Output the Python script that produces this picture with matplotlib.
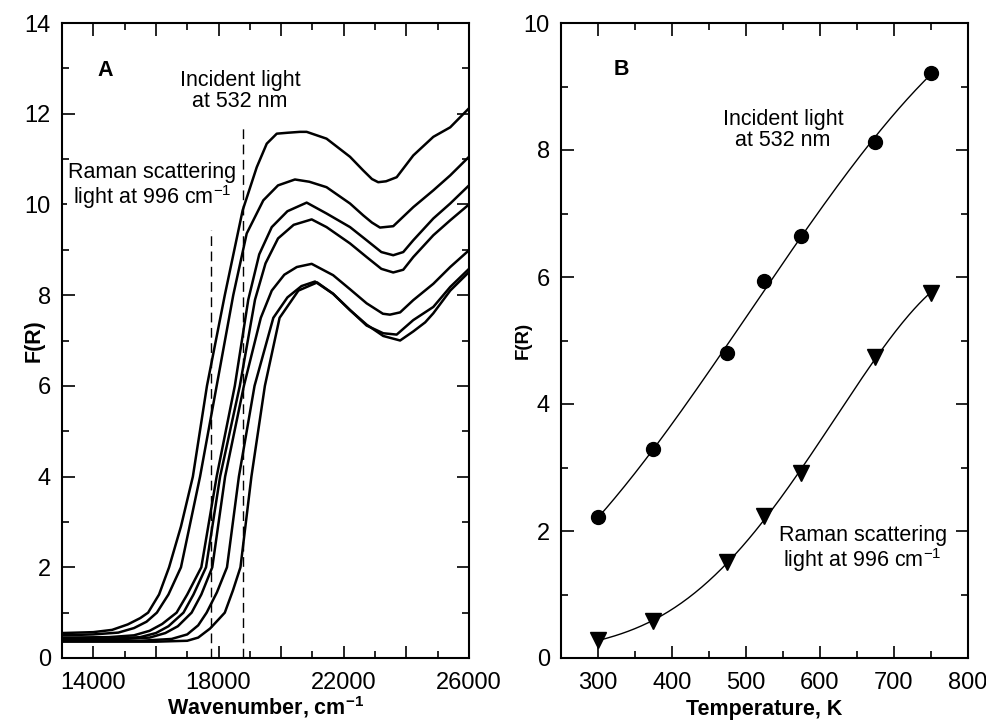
import numpy as np
import matplotlib
matplotlib.use("Agg")
import matplotlib.pyplot as plt
from matplotlib.ticker import MultipleLocator, FuncFormatter

plt.rcParams['font.family'] = ['Liberation Sans', 'DejaVu Sans']
plt.rcParams['mathtext.default'] = 'regular'

# ---------------- Panel A data (wavenumber, F(R)) ----------------
wn_1 = [13000, 14000, 14600, 15100, 15500, 15750, 16100, 16420, 16800, 17180, 17630, 18200, 18770, 19220, 19540,
        19860, 20200, 20600, 20815, 21450, 22200, 22620, 22900, 23100, 23350, 23690, 24220, 24860, 25400, 26000]
fr_1 = [0.55, 0.57, 0.62, 0.74, 0.88, 1.0, 1.4, 2.0, 2.9, 4.0, 6.0, 8.0, 9.87, 10.82, 11.34,
        11.56, 11.58, 11.6, 11.6, 11.45, 11.05, 10.75, 10.56, 10.49, 10.51, 10.6, 11.08, 11.49, 11.7, 12.12]

wn_2 = [13000, 14000, 14800, 15300, 15700, 16030, 16400, 16800, 17410, 17940, 18470, 18900, 19430, 19900, 20440,
        20900, 21450, 22200, 22620, 22900, 23157, 23580, 24220, 24860, 25400, 26000]
fr_2 = [0.5, 0.52, 0.56, 0.66, 0.8, 1.0, 1.4, 2.0, 4.0, 6.0, 8.0, 9.36, 10.09, 10.42, 10.55,
        10.5, 10.38, 10.02, 9.76, 9.6, 9.49, 9.52, 9.94, 10.31, 10.64, 11.05]

wn_3 = [13000, 14500, 15300, 15800, 16200, 16660, 17000, 17450, 17940, 18520, 18950, 19300, 19700, 20200, 20815,
        21450, 22200, 22730, 23200, 23580, 23900, 24220, 24860, 25400, 26000]
fr_3 = [0.45, 0.46, 0.5, 0.6, 0.75, 1.0, 1.4, 2.0, 4.0, 6.0, 7.9, 8.9, 9.5, 9.85, 10.04,
        9.80, 9.50, 9.21, 8.95, 8.88, 8.95, 9.21, 9.69, 10.02, 10.42]

wn_4 = [13000, 14500, 15500, 16000, 16400, 16880, 17200, 17600, 18050, 18680, 19165, 19500, 19900, 20400, 20975,
        21450, 22200, 22730, 23200, 23580, 23900, 24220, 24860, 25400, 26000]
fr_4 = [0.42, 0.42, 0.46, 0.55, 0.7, 1.0, 1.4, 2.0, 4.0, 6.0, 7.9, 8.7, 9.25, 9.55, 9.67,
        9.50, 9.14, 8.84, 8.58, 8.50, 8.56, 8.84, 9.32, 9.65, 10.0]

wn_5 = [13000, 15000, 15800, 16300, 16700, 17140, 17450, 17800, 18210, 18810, 19350, 19700, 20100, 20500, 20975,
        21660, 22200, 22730, 23250, 23475, 23800, 24220, 24860, 25400, 26000]
fr_5 = [0.42, 0.42, 0.45, 0.55, 0.7, 1.0, 1.4, 2.0, 4.0, 6.0, 7.5, 8.1, 8.45, 8.62, 8.69,
        8.44, 8.13, 7.82, 7.59, 7.57, 7.62, 7.89, 8.25, 8.62, 8.99]

wn_6 = [13000, 15500, 16500, 17000, 17350, 17620, 17950, 18270, 18650, 19150, 19750, 20200, 20650, 21080,
        21660, 22200, 22730, 23260, 23690, 24220, 24860, 25400, 26000]
fr_6 = [0.38, 0.38, 0.42, 0.52, 0.72, 1.0, 1.45, 2.0, 4.0, 6.0, 7.5, 7.95, 8.2, 8.30,
        8.03, 7.67, 7.33, 7.16, 7.13, 7.45, 7.74, 8.18, 8.58]

wn_7 = [13000, 16000, 17000, 17350, 17730, 18000, 18200, 18460, 18700, 19050, 19480, 19950, 20550, 21150,
        21660, 22200, 22730, 23260, 23800, 24220, 24600, 24860, 25400, 26000]
fr_7 = [0.36, 0.36, 0.38, 0.45, 0.65, 0.85, 1.0, 1.49, 2.0, 4.0, 6.0, 7.5, 8.1, 8.28,
        8.03, 7.67, 7.35, 7.1, 7.0, 7.2, 7.4, 7.6, 8.1, 8.51]

raman_wn = 17750
incident_wn = 18770
raman_top = 9.43
incident_top = 11.74

# ---------------- Panel B data ----------------
temperature = [300, 375, 475, 525, 575, 675, 750]
fr_incident = [2.22, 3.29, 4.81, 5.94, 6.65, 8.13, 9.22]
fr_raman = [0.28, 0.58, 1.51, 2.23, 2.91, 4.74, 5.75]

# ---------------- Figure ----------------
fig = plt.figure(figsize=(9.87, 7.23), dpi=100)
axA = fig.add_axes([62 / 987, 1 - 658 / 723, 407 / 987, 635 / 723])
axB = fig.add_axes([561 / 987, 1 - 658 / 723, 406.7 / 987, 635 / 723])

FS = 15.5
TFS = 17

def style(ax):
    for s in ax.spines.values():
        s.set_linewidth(1.5)
    ax.tick_params(which='both', direction='in', top=True, right=True, labelsize=TFS, width=1.2)
    ax.tick_params(which='major', length=9)
    ax.tick_params(which='minor', length=5)
    ax.tick_params(axis='x', which='major', pad=10)
    ax.tick_params(axis='y', which='major', pad=8)

# Panel A
for w, f in [(wn_1, fr_1), (wn_2, fr_2), (wn_3, fr_3), (wn_4, fr_4), (wn_5, fr_5), (wn_6, fr_6), (wn_7, fr_7)]:
    axA.plot(w, f, color='black', lw=1.8, solid_joinstyle='round')
axA.plot([raman_wn, raman_wn], [0, raman_top], color='black', lw=1.0, dashes=(7, 4))
axA.plot([incident_wn, incident_wn], [0, incident_top], color='black', lw=1.0, dashes=(7, 4))
axA.set_xlim(13000, 26000)
axA.set_ylim(0, 14)
axA.xaxis.set_major_locator(MultipleLocator(2000))
axA.xaxis.set_minor_locator(MultipleLocator(1000))
axA.xaxis.set_major_formatter(FuncFormatter(lambda v, p: f"{int(v)}" if int(round(v)) % 4000 == 2000 else ""))
axA.yaxis.set_major_locator(MultipleLocator(2))
axA.yaxis.set_minor_locator(MultipleLocator(1))
style(axA)
axA.set_xlabel("Wavenumber, cm$^{-1}$", fontsize=FS, fontweight='bold', labelpad=0)
axA.set_ylabel("F(R)", fontsize=FS, fontweight='bold')
axA.yaxis.set_label_coords(-0.042, 0.50)
axA.text(14380, 12.95, "A", fontsize=FS, fontweight='bold', ha='center', va='center')
axA.text(18690, 12.5, "Incident light\nat 532 nm", fontsize=FS, ha='center', va='center', linespacing=1.0)
axA.text(15870, 10.4, "Raman scattering\nlight at 996 cm$^{-1}$", fontsize=FS, ha='center', va='center',
         linespacing=1.0, bbox=dict(facecolor='white', edgecolor='none', pad=0.5))

# Panel B
tt = np.linspace(min(temperature), max(temperature), 200)
ci = np.polyfit(temperature, fr_incident, 3)
cr = np.polyfit(temperature, fr_raman, 4)
axB.plot(tt, np.polyval(ci, tt), color='black', lw=1.0)
axB.plot(tt, np.polyval(cr, tt), color='black', lw=1.0)
axB.plot(temperature, fr_incident, 'o', color='black', ms=10, ls='none')
axB.plot(temperature, fr_raman, 'v', color='black', ms=11, ls='none')
axB.set_xlim(250, 800)
axB.set_ylim(0, 10)
axB.xaxis.set_major_locator(MultipleLocator(100))
axB.xaxis.set_minor_locator(MultipleLocator(50))
axB.yaxis.set_major_locator(MultipleLocator(2))
axB.yaxis.set_minor_locator(MultipleLocator(1))
style(axB)
axB.set_xlabel("Temperature, K", fontsize=FS, fontweight='bold', labelpad=4)
axB.set_ylabel("F(R)", fontsize=13.5, fontweight='bold')
axB.yaxis.set_label_coords(-0.071, 0.50)
axB.text(332, 9.26, "B", fontsize=FS, fontweight='bold', ha='center', va='center')
axB.text(550, 8.32, "Incident light\nat 532 nm", fontsize=FS, ha='center', va='center', linespacing=1.0)
axB.text(658, 1.71, "Raman scattering\nlight at 996 cm$^{-1}$", fontsize=FS, ha='center', va='center',
         linespacing=1.0)

fig.savefig("out.png", dpi=100, facecolor='white')
